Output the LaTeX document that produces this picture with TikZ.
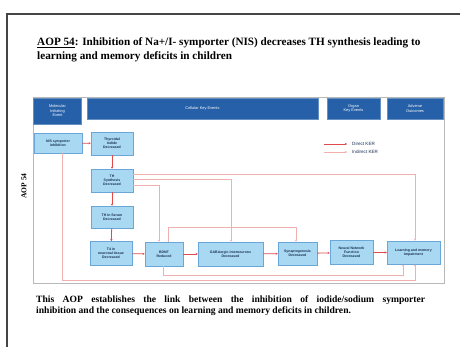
\documentclass[tikz,border=0pt]{standalone}
\usepackage{fontspec}
\setmainfont{Liberation Serif}
\newfontfamily\nodefont{Liberation Sans}
\usetikzlibrary{arrows.meta}
\definecolor{hdrblue}{HTML}{2560A8}
\definecolor{kefill}{HTML}{A8D8F2}
\definecolor{keline}{HTML}{6AA6D8}
\definecolor{kenavy}{HTML}{1B2F55}
\definecolor{directred}{HTML}{E04A4A}
\definecolor{indirectred}{HTML}{F0B0B0}
\definecolor{framegray}{HTML}{B8B8B8}
\definecolor{pagegray}{HTML}{454545}
\tikzset{
  hdr/.style={draw=hdrblue!70!white, line width=0.6pt, fill=hdrblue, text=white, align=center,
    font=\nodefont\fontsize{3.9}{4.5}\selectfont, inner sep=0pt},
  kebox/.style={draw=keline, line width=0.5pt, fill=kefill, text=kenavy, align=center,
    font=\nodefont\bfseries\fontsize{3.5}{4.1}\selectfont, inner sep=0pt},
  direct/.style={draw=directred, line width=0.8pt, -{Stealth[length=2.2pt,width=2.2pt]}},
  indirect/.style={draw=indirectred, line width=0.6pt, -{Stealth[length=2.2pt,width=2.2pt]}},
  legtext/.style={anchor=west, inner sep=0pt, text=kenavy, font=\nodefont\fontsize{4.6}{5}\selectfont},
}
\begin{document}
\begin{tikzpicture}[x=1pt,y=-1pt]
\useasboundingbox (0,0) rectangle (460,347);
\fill[white] (0,0) rectangle (460,347);
% page edge
\draw[pagegray, line width=1.6pt] (7,347) -- (7,14) -- (460,14);
% title
\node[anchor=north west, align=left, inner sep=0pt, font=\bfseries\fontsize{11.2}{14}\selectfont] (title) at (37,37.5)
  {\underline{AOP 54}: Inhibition of Na+/I- symporter (NIS) decreases TH synthesis leading to\\
   learning and memory deficits in children};
% frame
\draw[framegray, line width=0.5pt] (33,97) rectangle (444,283);
% headers
\node[hdr, minimum width=48pt, minimum height=26pt] (hmie) at (57.5,111) {Molecular\\Initiating\\Event};
\node[hdr, minimum width=231pt, minimum height=21pt] (hcell) at (202.5,108.5) {Cellular Key Events};
\node[hdr, minimum width=53pt, minimum height=21pt] (horg) at (353.5,108.5) {Organ\\Key Events};
\node[hdr, minimum width=56pt, minimum height=21pt] (hao) at (415,108.5) {Adverse\\Outcomes};
% side label
\node[rotate=90, font=\bfseries\fontsize{7.5}{8}\selectfont, inner sep=0pt] (side) at (24,186) {AOP 54};
% key events
\node[kebox, minimum width=48pt, minimum height=20pt] (mie) at (58,143) {NIS symporter\\inhibition};
\node[kebox, minimum width=42pt, minimum height=23pt] (tid) at (112,143.5) {Thyroidal\\Iodide\\Decreased};
\node[kebox, minimum width=42pt, minimum height=23pt] (ths) at (112,180.5) {TH\\Synthesis\\Decreased};
\node[kebox, minimum width=42pt, minimum height=22pt] (thser) at (112,217) {TH in Serum\\Decreased};
\node[kebox, minimum width=42pt, minimum height=24pt] (tfour) at (111,253.5) {T4 in\\neuronal tissue\\Decreased};
\node[kebox, minimum width=38pt, minimum height=24pt] (bdnf) at (164,254) {BDNF\\Reduced};
\node[kebox, minimum width=65pt, minimum height=24pt] (gaba) at (230.5,254) {GABAergic interneurons\\Decreased};
\node[kebox, minimum width=39pt, minimum height=23pt] (syn) at (297.5,253.5) {Synaptogenesis\\Decreased};
\node[kebox, minimum width=43pt, minimum height=24pt] (nnf) at (351.5,252.5) {Neural Network\\Function\\Decreased};
\node[kebox, minimum width=53pt, minimum height=23pt] (lmi) at (413.5,252.5) {Learning and memory\\Impairment};
% indirect KERs
\draw[indirect] ([yshift=6.5pt]ths.east) -| ([xshift=1.5pt]lmi.north);
\draw[indirect] ([yshift=1.5pt]ths.east) -| ([xshift=0.5pt]gaba.north);
\draw[indirect] ([yshift=-4.5pt]ths.east) -| ([xshift=-5pt]bdnf.north);
\draw[indirect] ([xshift=4pt]bdnf.north) -- ++(0,-14) -| ([xshift=-1.5pt]syn.north);
\draw[indirect] ([xshift=-1pt]bdnf.south) -- ++(0,9.5) -| ([xshift=-10.5pt]lmi.south);
\draw[indirect] ([xshift=4pt]mie.south) -- ++(0,127.5) -| ([xshift=1.5pt]lmi.south);
% direct KERs
\draw[direct] (mie) -- (tid);
\draw[direct] (tid) -- (ths);
\draw[direct] (ths) -- (thser);
\draw[direct] (thser) -- (tfour);
\draw[direct] (tfour) -- (bdnf);
\draw[direct] (bdnf) -- (gaba);
\draw[direct] (gaba) -- (syn);
\draw[direct] (syn) -- (nnf);
\draw[direct] (nnf) -- (lmi);
% legend
\coordinate (ld1) at (324,144); \coordinate (ld2) at (347,144);
\coordinate (li1) at (324,152); \coordinate (li2) at (347,152);
\draw[direct] (ld1) -- (ld2);
\draw[indirect] (li1) -- (li2);
\node[legtext] (ldt) at (352,144) {Direct KER};
\node[legtext] (lit) at (352,152) {Indirect KER};
% caption
\node[anchor=north west, inner sep=0pt, text width=389pt, align=justify, font=\bfseries\fontsize{9.6}{10.5}\selectfont] (caption) at (36,296)
  {This AOP establishes the link between the inhibition of iodide/sodium symporter\linebreak
   inhibition and the consequences on learning and memory deficits in children.};
\end{tikzpicture}
\end{document}
